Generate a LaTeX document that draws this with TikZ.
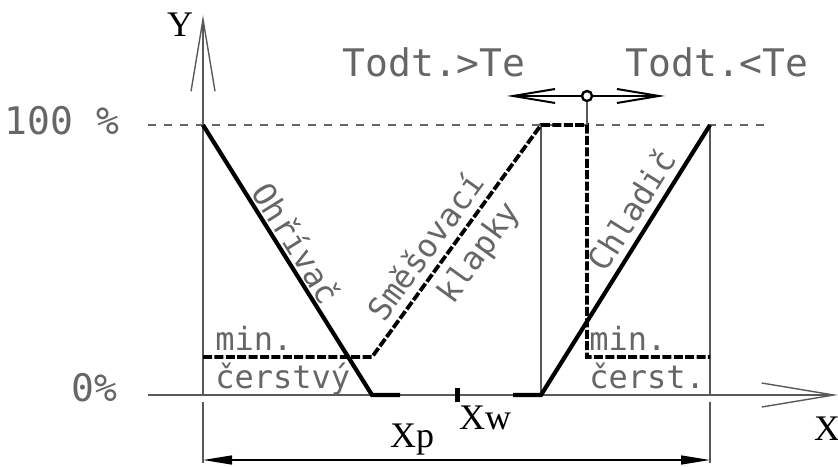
\documentclass[tikz,border=0pt]{standalone}
\usepackage{fontspec}
\setmonofont{DejaVu Sans Mono}
\setmainfont{Liberation Serif}
\usepackage{tikz}
\usetikzlibrary{positioning,arrows.meta}

\begin{document}
\begin{tikzpicture}[
    x=0.5pt, y=0.5pt,
    thinline/.style={line width=0.7pt, black!65},
    heavy/.style={line width=2.1pt, black},
    heavydash/.style={line width=1.9pt, black, dash pattern=on 4.5pt off 1.2pt},
    guide/.style={line width=0.6pt, black!60, dash pattern=on 4pt off 4pt},
    axisarrow/.style={-{Straight Barb[length=36pt,width=12pt]}, line width=0.7pt, black!65},
    swarrow/.style={-{Straight Barb[length=21pt,width=7pt]}, line width=1pt, black},
    dimarrow/.style={{Triangle[length=14.5pt,width=4.5pt]}-{Triangle[length=14.5pt,width=4.5pt]}, line width=0.7pt, black},
    cadtext/.style={font=\fontsize{19}{23}\selectfont\ttfamily, text=black!60, inner sep=0pt},
    curvetext/.style={font=\fontsize{16}{19}\selectfont\ttfamily, text=black!60, inner sep=0pt},
    axistext/.style={font=\fontsize{18}{21}\selectfont\rmfamily, inner sep=0pt}
]
\useasboundingbox (0,0) rectangle (838,466);

% axes and guide lines
\coordinate (O)  at (203,71);
\coordinate (xs) at (148,71);
\coordinate (xe) at (838,71);
\coordinate (yt) at (203,451);
\coordinate (gs) at (148,341);
\coordinate (ge) at (768,341);
\draw[axisarrow] (xs) -- (xe);
\draw[axisarrow] (O) -- (yt);
\draw[guide] (gs) -- (ge);

% curve corners
\coordinate (h1) at (203,341);
\coordinate (h2) at (372,71);
\coordinate (h3) at (400,71);
\coordinate (c0) at (513,71);
\coordinate (c1) at (541,71);
\coordinate (c2) at (710,341);
\coordinate (m0) at (203,109);
\coordinate (m1) at (372,109);
\coordinate (m2) at (541,341);
\coordinate (m3) at (587,341);
\coordinate (m4) at (587,109);
\coordinate (m5) at (710,109);
\coordinate (r1) at (710,71);
\coordinate (v1) at (541,341);

\draw[thinline] (c1) -- (v1);
\draw[thinline] (r1) -- (c2);

% heater, cooler, dampers
\draw[heavy] (h1) -- (h2) -- (h3);
\draw[heavy] (c0) -- (c1) -- (c2);
\draw[heavydash] (m0) -- (m1) -- (m2) -- (m3) -- (m4) -- (m5);

% Xw mark
\coordinate (w1) at (457,64);
\coordinate (w2) at (457,78);
\draw[line width=2.5pt] (w1) -- (w2);

% switch over point
\node[draw, circle, line width=1.2pt, minimum size=5pt, inner sep=0pt] (sw) at (587,370) {};
\coordinate (al) at (507,370);
\coordinate (ar) at (665,370);
\draw[swarrow] (sw) -- (al);
\draw[swarrow] (sw) -- (ar);
\draw[thinline] (sw) -- (m3);

% dimension Xp
\coordinate (e1) at (203,64);
\coordinate (e2) at (203,3);
\coordinate (e3) at (710,64);
\coordinate (e4) at (710,3);
\coordinate (d1) at (203,6);
\coordinate (d2) at (710,6);
\draw[thinline] (e1) -- (e2);
\draw[thinline] (e3) -- (e4);
\draw[dimarrow] (d1) -- (d2);

% labels
\node[axistext] (ylab)  at (180,441) {Y};
\node[axistext] (xlab)  at (827,37)  {X};
\node[axistext] (xplab) at (412,26)  {Xp};
\node[axistext] (xwlab) at (485,48)  {Xw};

\node[cadtext] (hot)  at (434,404) {Todt.>Te};
\node[cadtext] (cold) at (717,404) {Todt.<Te};
\node[cadtext] (full) at (62,345)  {100 \%};
\node[cadtext] (zero) at (94,78)   {0\%};

\node[curvetext, anchor=base west] (minl)  at (215,116) {min.};
\node[curvetext, anchor=base west] (frl)   at (215,78)  {čerstvý};
\node[curvetext, anchor=base west] (minr)  at (589,116) {min.};
\node[curvetext, anchor=base west] (frr)   at (589,78)  {čerst.};

\node[curvetext, rotate=-58] (heat) at (297,223) {Ohřívač};
\node[curvetext, rotate=54]  (mix1) at (425,220) {Směšovací};
\node[curvetext, rotate=54]  (mix2) at (480,213) {klapky};
\node[curvetext, rotate=58]  (cool) at (631,256) {Chladič};
\end{tikzpicture}
\end{document}
